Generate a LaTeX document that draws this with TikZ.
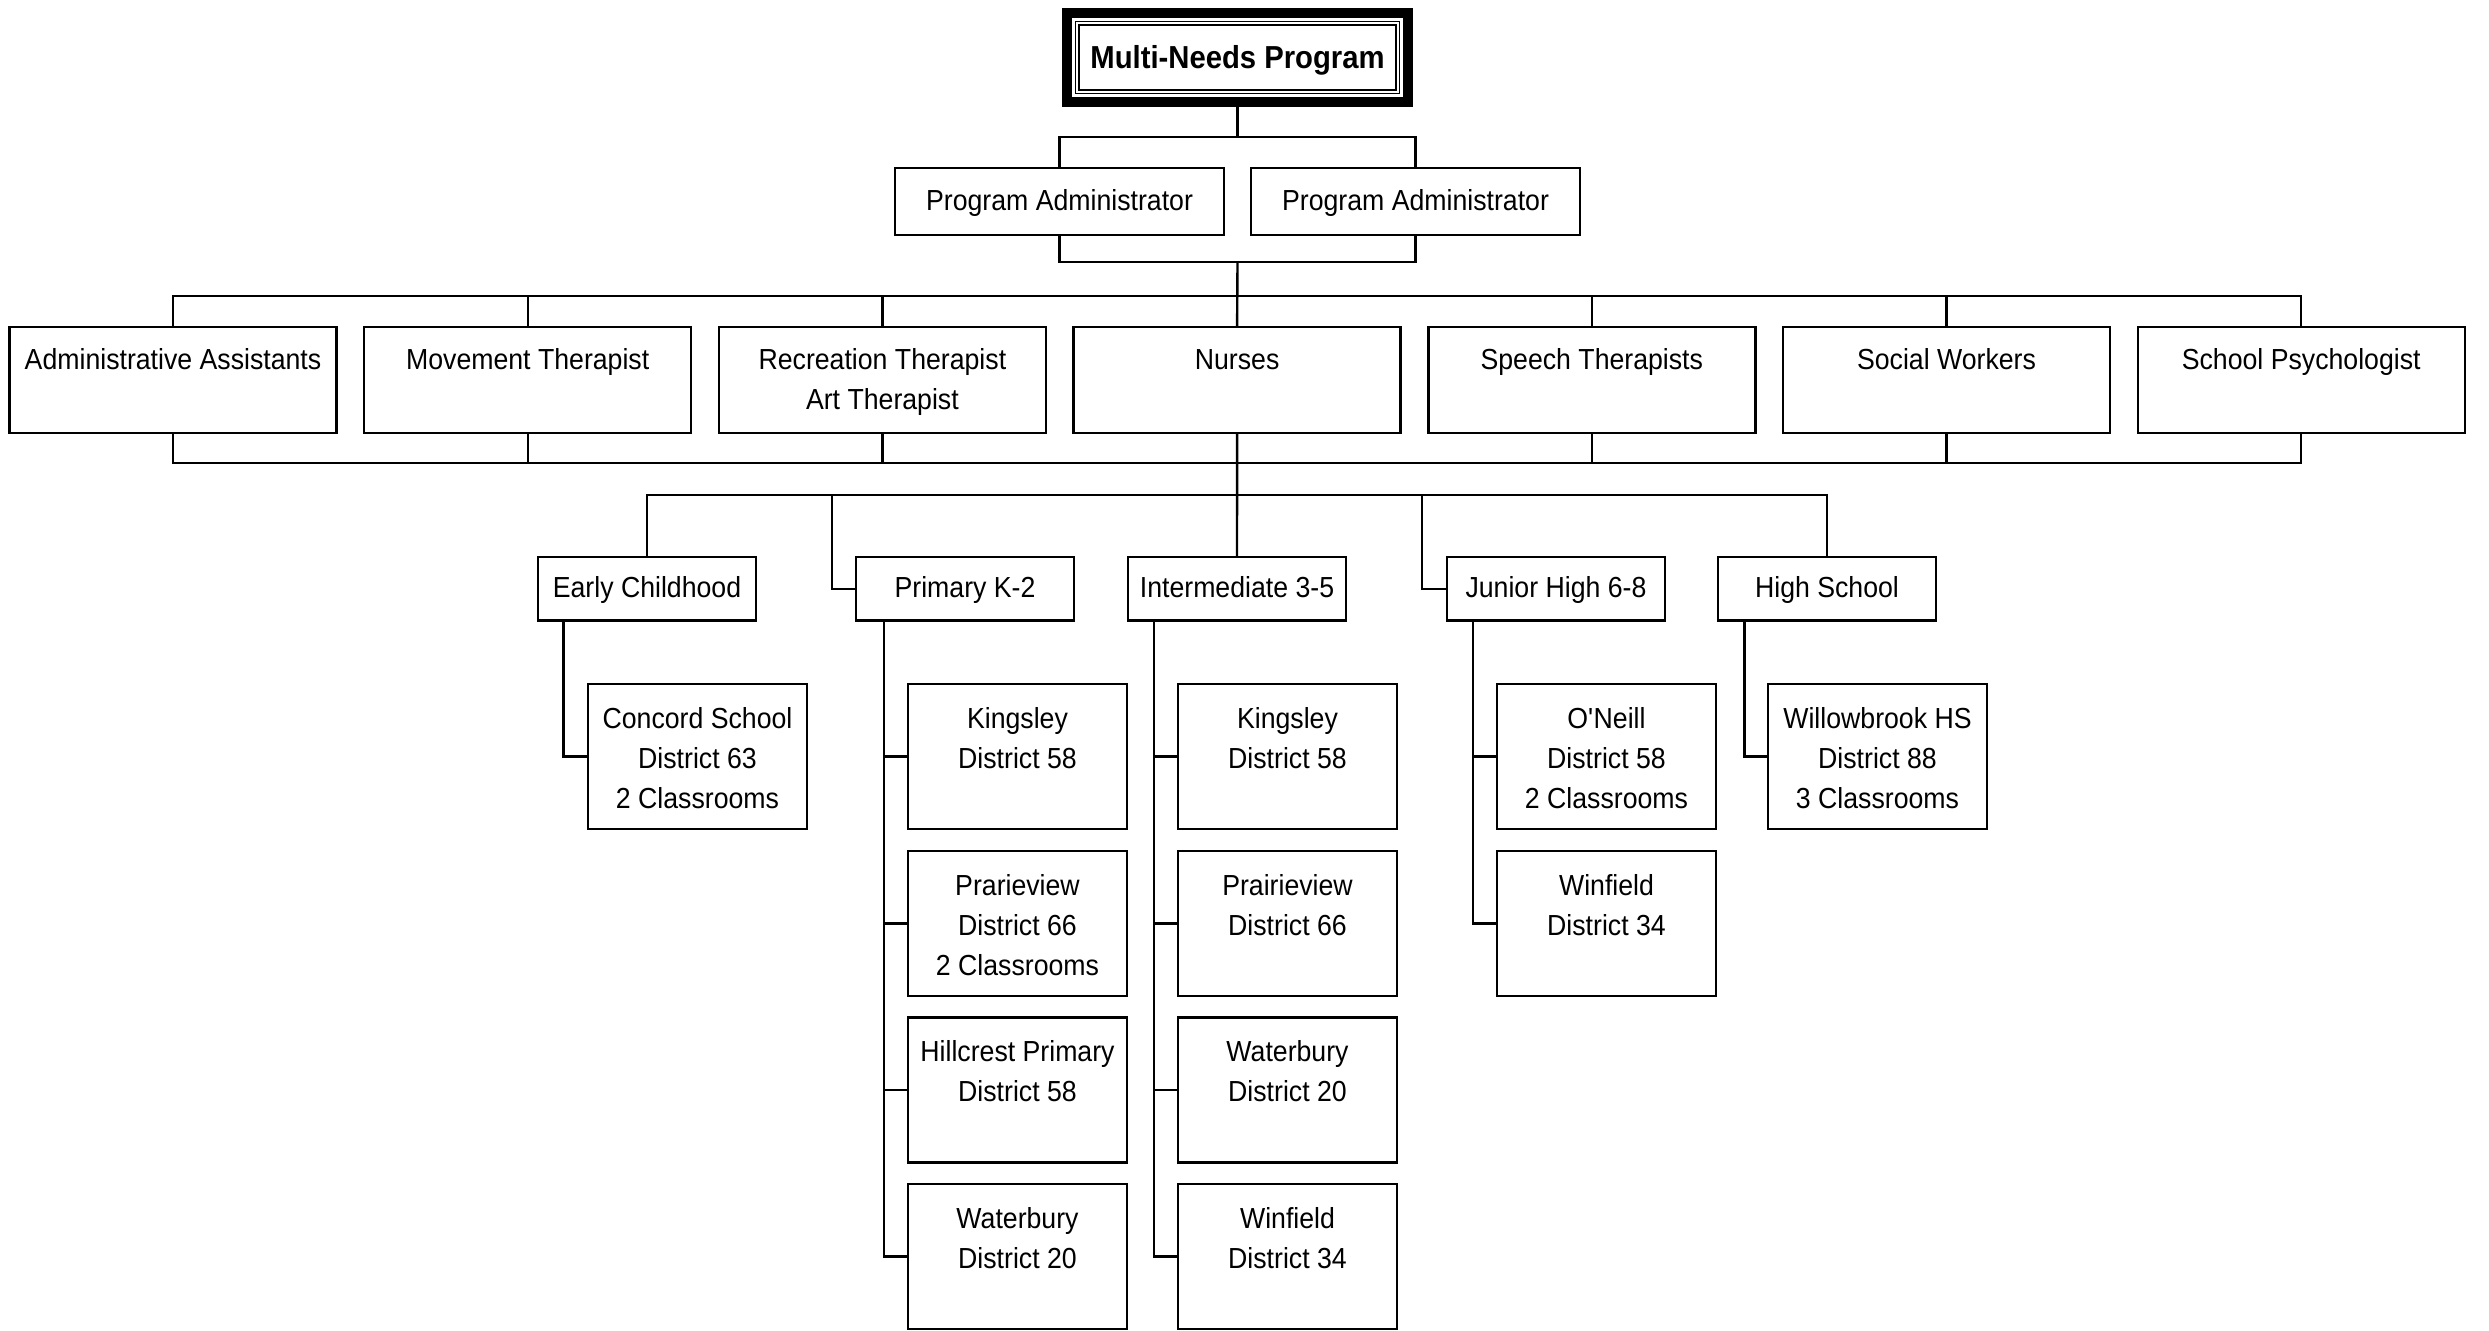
\documentclass[tikz,border=0pt]{standalone}
\usepackage{fontspec}
\setmainfont{Liberation Sans}[FakeStretch=0.92]
\newcommand{\staffT}[1]{\parbox[t][53pt][t]{163.5pt}{\centering\rule{0pt}{21.5pt}#1}}
\newcommand{\leafT}[1]{\parbox[t][72.5pt][t]{109.5pt}{\centering\rule{0pt}{22pt}#1}}
\begin{document}
\begin{tikzpicture}[x=0.5pt,y=-0.5pt, line width=1.2pt,
  base/.style={draw, line width=1.2pt, inner sep=0pt, outer sep=0pt, anchor=north west, font=\fontsize{14.5}{20}\selectfont},
  pabox/.style={base, minimum width=164.5pt, minimum height=33.5pt, text height=11.8pt, text depth=2.6pt},
  lvlbox/.style={base, minimum width=109pt, minimum height=31.75pt, text height=11.8pt, text depth=2.6pt},
  staffbox/.style={base},
  leafbox/.style={base}]
\fill[white] (0,0) rectangle (2489,1331);
\useasboundingbox (0,0) rectangle (2489,1331);

% title
\node[inner sep=0pt, outer sep=0pt, anchor=north west, minimum width=175.5pt, minimum height=49.5pt,
      text height=12.8pt, text depth=2.2pt,
      font=\fontsize{15.9}{18}\selectfont\bfseries] (top) at (1062,8) {Multi-Needs Program};
\draw[line width=5pt] ([shift={(5,5)}]top.north west) rectangle ([shift={(-5,-5)}]top.south east);
\draw[line width=0.6pt] ([shift={(13.5,13.5)}]top.north west) rectangle ([shift={(-13.5,-13.5)}]top.south east);
\draw[line width=0.6pt] ([shift={(17,17)}]top.north west) rectangle ([shift={(-17,-17)}]top.south east);

% program administrators
\node[pabox] (pa1) at (895,168) {Program Administrator};
\node[pabox] (pa2) at (1251,168) {Program Administrator};

% staff
\node[staffbox] (s1) at (9.5,327) {\staffT{Administrative Assistants}};
\node[staffbox] (s2) at (364.2,327) {\staffT{Movement Therapist}};
\node[staffbox] (s3) at (718.9,327) {\staffT{Recreation Therapist\\Art Therapist}};
\node[staffbox] (s4) at (1073.6,327) {\staffT{Nurses}};
\node[staffbox] (s5) at (1428.3,327) {\staffT{Speech Therapists}};
\node[staffbox] (s6) at (1783,327) {\staffT{Social Workers}};
\node[staffbox] (s7) at (2137.7,327) {\staffT{School Psychologist}};

% levels
\node[lvlbox] (ec) at (538,557) {Early Childhood};
\node[lvlbox] (prim) at (856,557) {Primary K-2};
\node[lvlbox] (inter) at (1128,557) {Intermediate 3-5};
\node[lvlbox] (jh) at (1447,557) {Junior High 6-8};
\node[lvlbox] (hs) at (1718,557) {High School};

% leaves
\node[leafbox] (ec1) at (588,684) {\leafT{Concord School\\District 63\\2 Classrooms}};
\node[leafbox] (p1) at (908,684) {\leafT{Kingsley\\District 58}};
\node[leafbox] (p2) at (908,851) {\leafT{Prarieview\\District 66\\2 Classrooms}};
\node[leafbox] (p3) at (908,1017.5) {\leafT{Hillcrest Primary\\District 58}};
\node[leafbox] (p4) at (908,1184) {\leafT{Waterbury\\District 20}};
\node[leafbox] (i1) at (1178,684) {\leafT{Kingsley\\District 58}};
\node[leafbox] (i2) at (1178,851) {\leafT{Prairieview\\District 66}};
\node[leafbox] (i3) at (1178,1017.5) {\leafT{Waterbury\\District 20}};
\node[leafbox] (i4) at (1178,1184) {\leafT{Winfield\\District 34}};
\node[leafbox] (j1) at (1497,684) {\leafT{O\textquotesingle Neill\\District 58\\2 Classrooms}};
\node[leafbox] (j2) at (1497,851) {\leafT{Winfield\\District 34}};
\node[leafbox] (h1) at (1768,684) {\leafT{Willowbrook HS\\District 88\\3 Classrooms}};

% connectors: title to administrators
\coordinate (ja) at (1237.5,137);
\draw (top.south) -- (ja);
\draw (pa1.north) |- (ja) -| (pa2.north);
\coordinate (jb) at (1237.5,262);
\draw (pa1.south) |- (jb) -| (pa2.south);
% administrators to staff
\coordinate (jc) at (1237.5,296);
\draw (jb) -- (s4.north);
\draw (s1.north) -- (s1.north |- jc) -- (s7.north |- jc) -- (s7.north);
\foreach \n in {s2,s3,s5,s6} \draw (\n.north) -- (\n.north |- jc);
% staff bottom bracket
\coordinate (jd) at (1237.5,463);
\draw (s1.south) -- (s1.south |- jd) -- (s7.south |- jd) -- (s7.south);
\foreach \n in {s2,s3,s5,s6} \draw (\n.south) -- (\n.south |- jd);
% to levels
\coordinate (je) at (1237.5,495);
\draw (s4.south) -- (inter.north);
\draw (ec.north) -- (ec.north |- je) -- (hs.north |- je) -- (hs.north);
\coordinate (pbr) at (832,495);
\draw (pbr) |- (prim.west);
\coordinate (jbr) at (1422,495);
\draw (jbr) |- (jh.west);
% level trunks
\coordinate (ectr) at ([xshift=12.75pt]ec.south west);
\draw (ectr) |- (ec1.west);
\coordinate (ptr) at ([xshift=14pt]prim.south west);
\draw (ptr) |- (p4.west);
\foreach \n in {p1,p2,p3} \draw (\n.west) -- (\n.west -| ptr);
\coordinate (itr) at ([xshift=13pt]inter.south west);
\draw (itr) |- (i4.west);
\foreach \n in {i1,i2,i3} \draw (\n.west) -- (\n.west -| itr);
\coordinate (jtr) at ([xshift=13pt]jh.south west);
\draw (jtr) |- (j2.west);
\draw (j1.west) -- (j1.west -| jtr);
\coordinate (htr) at ([xshift=13.25pt]hs.south west);
\draw (htr) |- (h1.west);
\end{tikzpicture}
\end{document}
